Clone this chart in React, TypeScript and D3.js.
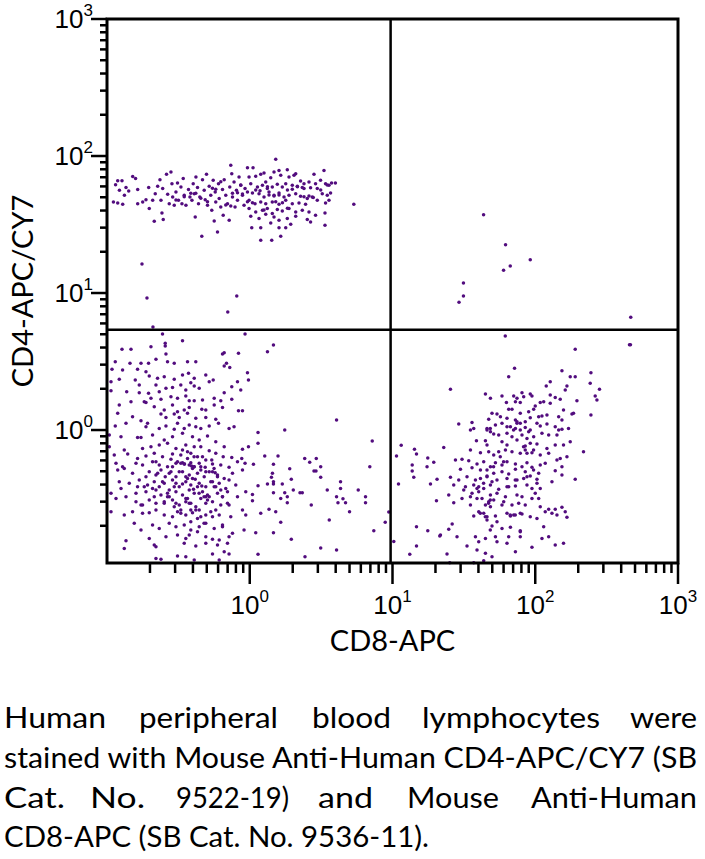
import React from "react";
import * as d3 from "d3";

// ---- data (log10 of fluorescence intensity: [CD8-APC, CD4-APC/CY7]) ----
const cd4SinglePositiveLog: [number, number][] = [
  [-0.94,1.79],[-0.925,1.82],[-0.895,1.82],[-0.867,1.77],[-0.848,1.745],[-0.82,1.85],[-0.8,1.835],[-0.913,1.75],[-0.878,1.713],[-0.955,1.665],
  [-0.925,1.657],[-0.89,1.648],[-0.785,1.755],[-0.785,1.652],[-0.75,1.665],[-0.727,1.68],[-0.708,1.77],[-0.704,1.616],[-0.68,1.677],[-0.669,1.524],
  [-0.662,1.725],[-0.645,1.779],[-0.629,1.827],[-0.622,1.677],[-0.61,1.762],[-0.615,1.584],[-0.606,1.536],[-0.583,1.866],[-0.575,1.72],[-0.564,1.652],
  [-0.552,1.883],[-0.545,1.798],[-0.54,1.7],[-0.529,1.64],[-0.517,1.737],[-0.506,1.803],[-0.499,1.677],[-0.482,1.774],[-0.475,1.652],[-0.466,1.835],
  [-0.459,1.713],[-0.447,1.64],[-0.429,1.755],[-0.419,1.7],[-0.405,1.677],[-0.396,1.798],[-0.389,1.725],[-0.382,1.555],[-0.377,1.847],[-0.366,1.77],
  [-0.359,1.652],[-0.35,1.7],[-0.336,1.414],[-0.331,1.827],[-0.319,1.75],[-0.312,1.68],[-0.303,1.866],[-0.296,1.64],[-0.284,1.779],[-0.273,1.713],
  [-0.266,1.604],[-0.256,1.823],[-0.249,1.526],[-0.242,1.737],[-0.238,1.665],[-0.226,1.446],[-0.219,1.798],[-0.214,1.689],[-0.203,1.628],[-0.191,1.755],
  [-0.186,1.567],[-0.179,1.827],[-0.168,1.713],[-0.156,1.652],[-0.144,1.531],[-0.14,1.774],[-0.133,1.932],[-0.126,1.871],[-0.121,1.7],[-0.11,1.81],
  [-0.103,1.628],[-0.093,1.75],[-0.086,1.677],[-0.075,1.847],[-0.063,1.786],[-0.051,1.713],[-0.04,1.64],[-0.033,1.762],
  [-0.016,1.915],[0.023,1.915],[0.182,1.976],[-0.005,1.847],[0.042,1.852],[0.077,1.866],[0.1,1.876],[0.112,1.81],[0.147,1.842],[0.17,1.883],
  [0.205,1.895],[0.217,1.859],[0.263,1.9],[0.275,1.847],[0.31,1.859],[0.322,1.871],[0.356,1.818],[0.38,1.798],[0.415,1.81],[0.45,1.866],
  [0.461,1.798],[0.496,1.823],[0.52,1.895],[0.531,1.798],[0.555,1.786],[0.573,1.803],[0.6,1.803],[0.007,1.798],[0.054,1.774],[0.089,1.786],
  [0.123,1.762],[0.158,1.774],[0.193,1.793],[0.228,1.774],[0.252,1.798],[0.298,1.786],[0.333,1.779],[0.38,1.762],[0.426,1.769],[0.473,1.762],
  [0.508,1.725],[0.543,1.713],[0.566,1.73],[-0.016,1.737],[0.019,1.73],[0.065,1.725],[0.1,1.7],[0.135,1.737],[0.17,1.713],[0.205,1.73],
  [0.24,1.7],[0.275,1.713],[0.322,1.725],[0.356,1.706],[0.403,1.689],[0.438,1.7],[0.473,1.677],[0.531,1.657],[0.555,1.677],[-0.005,1.677],
  [0.037,1.652],[0.077,1.665],[0.112,1.652],[0.158,1.665],[0.205,1.648],[0.252,1.677],[0.298,1.652],[0.345,1.657],[0.391,1.648],[-0.005,1.616],
  [0.042,1.592],[0.089,1.604],[0.123,1.616],[0.158,1.58],[0.193,1.609],[0.228,1.599],[0.275,1.616],[0.322,1.592],[0.368,1.604],[0.415,1.592],
  [0.461,1.567],[0.527,1.584],[0.729,1.648],[0.007,1.56],[0.065,1.543],[0.112,1.575],[0.17,1.555],[0.205,1.531],[0.263,1.543],[0.322,1.56],
  [0.403,1.536],[0.426,1.519],[0.527,1.494],[0.014,1.477],[0.077,1.477],[0.147,1.511],[0.205,1.477],[0.252,1.477],[0.287,1.502],[0.077,1.385],
  [0.154,1.385],[0.217,1.414],
  [-0.413,1.728],[-0.378,1.728],[-0.261,1.764],[-0.238,1.757],[-0.121,1.728],[-0.086,1.732],[-0.051,1.723],[0.042,1.752],[0.072,1.747],[0.135,1.715],
  [0.17,1.708],[0.205,1.715],[0.264,1.752],[0.298,1.757],[0.334,1.776],[0.368,1.771],[0.38,1.703],[0.415,1.708],[0.445,1.698],[0.182,1.666],
  [0.229,1.659],[-0.016,1.666],[0.019,1.659],[-0.168,1.642],[-0.133,1.635],[-0.296,1.666],[-0.343,1.691],[-0.459,1.703],[-0.517,1.679],[0.497,1.752],
  [0.543,1.788],[0.264,1.618],[0.1,1.606],[0.124,1.776],[-0.063,1.788],[-0.203,1.812],
  [-0.755,1.212],[-0.72,0.964],[-0.154,0.861],[-0.091,0.978],[-0.678,0.752],
];

const doublePositiveLog: [number, number][] = [
  [1.638,1.572],[1.792,1.353],[1.965,1.243],[1.825,1.197],[1.778,1.166],[1.497,1.073],[1.497,0.978],[1.466,0.932],[2.669,0.823],
];

const doubleNegativeLog: [number, number][] = [
  [-0.611,0.701],[-0.033,0.701],[-0.471,0.652],[-0.592,0.633],[-0.592,0.613],[-0.692,0.608],[-0.895,0.589],[-0.832,0.589],[-0.179,0.564],[-0.191,0.555],
  [-0.079,0.56],[-0.587,0.555],[-0.942,0.499],[-0.839,0.487],[-0.762,0.487],[-0.709,0.487],[-0.657,0.516],[-0.576,0.499],[-0.529,0.487],[-0.436,0.499],
  [-0.378,0.499],[-0.179,0.467],[-0.163,0.487],[-0.14,0.457],[-0.016,0.418],[-0.965,0.443],[-0.891,0.438],[-0.786,0.443],[-0.727,0.426],[-0.914,0.37],
  [-0.972,0.353],[-0.802,0.365],[-0.704,0.394],[-0.646,0.377],[-0.599,0.389],[-0.529,0.37],[-0.471,0.401],[-0.429,0.414],[-0.389,0.377],[-0.308,0.401],
  [-0.284,0.353],[-0.256,0.365],[-0.413,0.345],[-0.086,0.353],[-0.009,0.365],[-0.774,0.328],[-0.657,0.328],[-0.587,0.304],[-0.541,0.311],[-0.483,0.328],
  [-0.448,0.292],[-0.389,0.321],[-0.354,0.304],[-0.179,0.272],[-0.126,0.316],[-0.063,0.292],[-0.972,0.287],[-0.862,0.28],[-0.774,0.272],[-0.709,0.268],
  [-0.634,0.28],[-0.739,0.207],[-0.692,0.231],[-0.622,0.224],[-0.552,0.243],[-0.506,0.231],[-0.448,0.248],[-0.424,0.214],[-0.389,0.214],[-0.331,0.219],
  [-0.249,0.231],[-0.203,0.214],[-0.126,0.224],[-0.914,0.182],[-0.832,0.207],[-0.727,0.2],[-0.669,0.17],[-0.599,0.146],[-0.541,0.182],[-0.506,0.134],
  [-0.459,0.146],[-0.424,0.165],[-0.336,0.151],[-0.308,0.146],[-0.249,0.182],[-0.191,0.165],[-0.079,0.141],[-0.051,0.141],[-0.925,0.122],[-0.821,0.097],
  [-0.762,0.068],[-0.716,0.049],[-0.622,0.117],[-0.587,0.092],[-0.529,0.117],[-0.494,0.092],[-0.436,0.122],[-0.378,0.085],[-0.308,0.092],[-0.238,0.078],
  [-0.942,0.029],[-0.867,0.049],[-0.727,0.024],[-0.634,0.012],[-0.587,0.029],[-0.529,0.005],[-0.506,0.049],[-0.459,0.012],[-0.424,0.036],[-0.378,0.024],
  [-0.343,0.012],[-0.284,0.029],[-0.219,0.049],[-0.145,0.012],[-0.11,0.024],[-0.984,-0.036],[-0.902,-0.049],[-0.786,-0.054],[-0.762,-0.054],[-0.681,-0.036],
  [-0.599,-0.073],[-0.541,-0.049],[-0.471,-0.024],[-0.401,-0.049],[-0.354,-0.073],[-0.296,-0.044],[-0.238,-0.085],[-0.179,-0.122],[-0.984,-0.122],[-0.879,-0.146],
  [-0.751,-0.134],[-0.692,-0.122],[-0.634,-0.109],[-0.576,-0.097],[-0.517,-0.134],[-0.448,-0.109],[-0.389,-0.122],[-0.343,-0.122],[-0.284,-0.151],[-0.238,-0.17],
  [-0.186,-0.195],[-0.126,-0.2],[-0.056,-0.207],[-0.009,-0.122],[-0.949,-0.182],[-0.855,-0.175],[-0.786,-0.207],[-0.727,-0.19],[-0.669,-0.17],[-0.611,-0.195],
  [-0.552,-0.214],[-0.483,-0.182],[-0.436,-0.207],[-0.413,-0.17],[-0.366,-0.195],[-0.308,-0.219],[-0.051,-0.141],[-0.937,-0.243],[-0.891,-0.268],[-0.797,-0.243],
  [-0.751,-0.255],[-0.681,-0.231],[-0.634,-0.255],[-0.576,-0.268],[-0.517,-0.243],[-0.471,-0.238],[-0.424,-0.255],[-0.389,-0.268],[-0.354,-0.243],[-0.312,-0.272],
  [-0.261,-0.248],[-0.203,-0.255],[-0.145,-0.272],[-0.086,-0.231],[-0.033,-0.243],[-0.925,-0.292],[-0.879,-0.28],[-0.821,-0.316],[-0.704,-0.304],[-0.657,-0.328],
  [-0.622,-0.292],[-0.564,-0.316],[-0.517,-0.341],[-0.471,-0.304],[-0.424,-0.328],[-0.401,-0.28],[-0.366,-0.316],[-0.319,-0.341],[-0.261,-0.304],[-0.226,-0.328],
  [-0.179,-0.353],[-0.121,-0.316],[-0.051,-0.292],[-0.914,-0.377],[-0.844,-0.389],[-0.774,-0.365],[-0.716,-0.401],[-0.669,-0.377],[-0.599,-0.389],[-0.541,-0.365],
  [-0.494,-0.414],[-0.448,-0.377],[-0.413,-0.401],[-0.354,-0.389],[-0.308,-0.414],[-0.261,-0.377],[-0.214,-0.389],[-0.168,-0.426],[-0.098,-0.401],[-0.972,-0.462],
  [-0.902,-0.426],[-0.797,-0.462],[-0.727,-0.45],[-0.657,-0.438],[-0.622,-0.474],[-0.576,-0.462],[-0.517,-0.45],[-0.471,-0.474],[-0.424,-0.438],[-0.389,-0.462],
  [-0.331,-0.45],[-0.284,-0.487],[-0.226,-0.462],[-0.156,-0.45],[-0.086,-0.487],[-0.028,-0.45],[-0.937,-0.499],[-0.797,-0.523],[-0.762,-0.547],[-0.704,-0.511],
  [-0.657,-0.535],[-0.599,-0.523],[-0.541,-0.511],[-0.494,-0.547],[-0.448,-0.523],[-0.413,-0.535],[-0.378,-0.56],[-0.343,-0.499],[-0.308,-0.535],[-0.261,-0.523],
  [-0.203,-0.547],[-0.145,-0.547],[-0.051,-0.584],[-0.879,-0.62],[-0.821,-0.596],[-0.751,-0.608],[-0.704,-0.603],[-0.657,-0.584],[-0.599,-0.62],[-0.541,-0.633],
  [-0.506,-0.596],[-0.448,-0.62],[-0.401,-0.603],[-0.366,-0.645],[-0.308,-0.62],[-0.273,-0.596],[-0.214,-0.62],[-0.133,-0.633],[-0.028,-0.62],[-0.972,-0.596],
  [-0.809,-0.681],[-0.762,-0.73],[-0.681,-0.693],[-0.634,-0.718],[-0.564,-0.681],[-0.517,-0.706],[-0.459,-0.693],[-0.413,-0.669],[-0.354,-0.706],[-0.308,-0.681],
  [-0.249,-0.718],[-0.191,-0.693],[-0.867,-0.808],[-0.879,-0.864],[-0.704,-0.791],[-0.657,-0.852],[-0.587,-0.779],[-0.506,-0.766],[-0.448,-0.791],[-0.424,-0.766],
  [-0.366,-0.742],[-0.308,-0.779],[-0.261,-0.798],[-0.214,-0.803],[-0.145,-0.779],[-0.121,-0.754],[-0.04,-0.73],[-0.669,-0.839],[-0.459,-0.827],[-0.378,-0.847],
  [-0.308,-0.827],[-0.226,-0.839],[-0.156,-0.827],[-0.657,-0.937],[-0.622,-0.944],[-0.506,-0.92],[-0.448,-0.925],[-0.389,-0.949],[-0.261,-0.905],[-0.214,-0.949],
  [-0.179,-0.888],[-0.145,-0.905],
  [-0.457,-0.248],[-0.408,-0.263],[-0.343,-0.268],[-0.284,-0.304],[-0.242,-0.311],[-0.436,-0.353],[-0.382,-0.36],[-0.336,-0.409],[-0.296,-0.474],[-0.436,-0.499],
  [-0.552,-0.304],[-0.592,-0.341],[-0.529,-0.414],[-0.471,-0.394],[-0.394,-0.433],[-0.249,-0.414],[-0.203,-0.438],[-0.483,-0.584],[-0.354,-0.584],[-0.308,-0.487],
  [-0.634,-0.414],[-0.681,-0.426],[-0.739,-0.414],[-0.564,-0.487],[-0.517,-0.535],[-0.413,-0.584],[-0.238,-0.584],[-0.191,-0.487],[-0.145,-0.365],[-0.331,-0.195],
  [-0.266,-0.219],[-0.471,-0.146],[-0.541,-0.175],[-0.657,-0.231],[-0.727,-0.341],[-0.786,-0.414],[-0.867,-0.487],[-0.751,-0.547],[-0.261,-0.633],[-0.191,-0.706],
  [-0.483,-0.243],[-0.459,-0.248],[-0.413,-0.238],[-0.39,-0.268],[-0.343,-0.292],[-0.308,-0.304],[-0.494,-0.304],[-0.448,-0.341],[-0.401,-0.353],[-0.366,-0.414],
  [-0.355,-0.462],[-0.32,-0.487],[-0.296,-0.511],[-0.448,-0.499],[-0.424,-0.535],[-0.517,-0.389],[-0.564,-0.438],[-0.576,-0.487],[-0.611,-0.377],[-0.645,-0.316],
  [-0.273,-0.377],[-0.238,-0.414],[-0.226,-0.341],[-0.25,-0.28],[-0.39,-0.195],[-0.436,-0.158],[-0.506,-0.231],[-0.541,-0.268],[-0.378,-0.584],[-0.343,-0.633],
  [-0.483,-0.608],[-0.529,-0.56],[-0.599,-0.535],[-0.669,-0.487],[-0.191,-0.487],[-0.156,-0.535],[-0.32,-0.681],[-0.413,-0.73],
  [0.166,0.62],[0.124,0.572],[0.608,0.073],[0.245,0],[0.058,-0.019],[0.058,-0.097],[0.858,-0.08],[0.105,-0.19],[0.198,-0.19],[0.026,-0.25],
  [0.166,-0.25],[0.385,-0.207],[0.42,-0.236],[0.466,-0.207],[0.497,-0.268],[0.45,-0.299],[0.464,-0.299],[0.28,-0.282],[0.058,-0.406],[0.124,-0.394],
  [0.166,-0.377],[0.166,-0.394],[0.228,-0.394],[0.152,-0.345],[0.159,-0.316],[0.291,-0.36],[0.497,-0.345],[0.636,-0.377],[0.636,-0.426],[0.543,-0.438],
  [0.305,-0.438],[0.166,-0.457],[0.245,-0.457],[0.263,-0.487],[0.352,-0.457],[0.368,-0.457],[0.019,-0.47],[0.019,-0.516],[0.217,-0.499],[0.263,-0.53],
  [0.431,-0.547],[0.608,-0.487],[0.653,-0.501],[0.618,-0.53],[0.671,-0.53],[0.76,-0.438],[0.811,-0.487],[0.811,-0.53],[0.699,-0.596],[0.077,-0.608],
  [0.135,-0.579],[0.182,-0.596],[0.217,-0.674],[0.557,-0.657],[0.042,-0.749],[0.166,-0.749],[0.291,-0.798],[0.497,-0.861],[0.608,-0.876],[0.869,-0.735],
  [0.949,-0.674],[0.058,-0.907],[0.387,-0.925],[0.974,-0.599],[0.841,-0.268],
];

const cd8SinglePositiveLog: [number, number][] = [
  [1.814,0.389],[2.187,0.433],[2.245,0.389],[2.28,0.389],[2.39,0.418],[2.385,0.341],[2.45,0.297],[2.42,0.248],[2.432,0.219],[2.39,0.109],
  [2.292,0.214],[2.105,0.353],[2.077,0.321],[2.222,0.321],[2.21,0.292],[2.105,0.255],[2.14,0.238],[2.175,0.224],[1.406,0.297],[1.651,0.263],
  [1.686,0.231],[1.767,0.248],[1.849,0.248],[1.872,0.231],[1.907,0.272],[1.919,0.243],[1.965,0.263],[1.977,0.248],[1.861,0.207],[1.895,0.2],
  [1.798,0.2],[2.035,0.2],[2.059,0.207],[2.105,0.195],[2.0,0.175],[1.814,0.151],[1.837,0.151],[1.895,0.122],[1.954,0.134],[1.989,0.151],
  [1.697,0.122],[1.732,0.117],[1.756,0.097],[1.802,0.085],[1.861,0.073],[1.895,0.049],[1.93,0.061],[1.965,0.09],[2.024,0.097],[2.047,0.102],
  [2.082,0.109],[2.164,0.097],[2.187,0.073],[2.198,0.146],[2.257,0.117],[2.268,0.122],[1.557,0.054],[1.464,0.044],[1.674,0.078],[1.721,0.036],
  [1.767,0.049],[1.826,0.024],[1.861,0.012],[1.895,0],[1.93,0.019],[1.954,-0.012],[2.012,0.049],[2.035,0.029],[2.082,0.044],[2.14,0.024],
  [2.164,0],[2.187,0.005],[2.233,0.012],[1.546,0],[1.569,0.012],[1.662,0.012],[1.686,-0.012],[1.709,-0.029],[1.744,-0.036],[1.802,-0.024],
  [1.837,-0.049],[1.907,-0.036],[1.942,-0.061],[1.989,-0.049],[2.047,-0.024],[2.094,-0.036],[2.152,-0.036],[1.588,-0.078],[1.651,-0.078],[1.662,-0.109],
  [1.767,-0.085],[1.802,-0.109],[1.872,-0.073],[1.93,-0.117],[1.965,-0.097],[2.012,-0.102],[2.082,-0.134],[2.14,-0.109],[2.198,-0.109],[2.245,-0.085],
  [2.338,-0.158],[1.359,-0.127],[1.546,-0.146],[1.616,-0.165],[1.674,-0.158],[1.709,-0.182],[1.744,-0.158],[1.791,-0.146],[1.837,-0.158],[1.895,-0.17],
  [1.93,-0.146],[1.977,-0.165],[2.035,-0.182],[2.094,-0.17],[2.175,-0.207],[2.222,-0.195],[1.441,-0.219],[1.487,-0.214],[1.534,-0.224],[1.592,-0.248],
  [1.639,-0.231],[1.686,-0.268],[1.721,-0.238],[1.767,-0.255],[1.802,-0.231],[1.861,-0.248],[1.907,-0.268],[1.942,-0.238],[1.977,-0.272],[2.035,-0.255],
  [2.07,-0.243],[2.152,-0.219],[2.187,-0.268],[1.476,-0.287],[1.557,-0.275],[1.616,-0.292],[1.662,-0.292],[1.709,-0.316],[1.767,-0.304],[1.814,-0.321],
  [1.861,-0.287],[1.93,-0.304],[1.965,-0.336],[2.024,-0.316],[2.14,-0.297],[2.187,-0.328],[2.28,-0.36],[1.406,-0.345],[1.464,-0.365],[1.522,-0.341],
  [1.581,-0.365],[1.616,-0.353],[1.662,-0.336],[1.697,-0.377],[1.732,-0.365],[1.802,-0.353],[1.872,-0.365],[1.919,-0.353],[2.012,-0.36],[1.429,-0.401],
  [1.511,-0.414],[1.569,-0.401],[1.592,-0.426],[1.639,-0.426],[1.686,-0.401],[1.744,-0.433],[1.814,-0.414],[1.861,-0.409],[1.942,-0.401],[1.977,-0.426],
  [2.035,-0.426],[2.117,-0.377],[1.394,-0.474],[1.499,-0.438],[1.557,-0.462],[1.604,-0.45],[1.686,-0.474],[1.732,-0.462],[1.791,-0.487],[1.872,-0.474],
  [1.907,-0.487],[2.0,-0.462],[2.024,-0.499],[1.429,-0.53],[1.487,-0.499],[1.546,-0.487],[1.592,-0.499],[1.627,-0.499],[1.674,-0.523],[1.709,-0.511],
  [1.779,-0.523],[1.837,-0.547],[1.884,-0.535],[1.93,-0.547],[1.977,-0.499],[2.035,-0.56],[2.094,-0.579],[2.14,-0.579],[2.187,-0.564],[1.546,-0.547],
  [1.651,-0.547],[1.686,-0.56],[1.767,-0.547],[1.604,-0.596],[1.639,-0.608],[1.662,-0.633],[1.721,-0.628],[1.802,-0.608],[1.826,-0.628],[1.849,-0.62],
  [1.907,-0.613],[1.965,-0.633],[2.012,-0.645],[2.07,-0.596],[2.117,-0.608],[2.152,-0.62],[2.21,-0.596],[2.222,-0.637],[1.569,-0.628],[1.662,-0.657],
  [1.697,-0.701],[1.732,-0.669],[1.767,-0.718],[1.826,-0.71],[1.895,-0.735],[2.059,-0.706],[1.418,-0.686],[1.394,-0.725],[1.452,-0.779],[1.336,-0.766],
  [1.581,-0.779],[1.651,-0.791],[1.721,-0.779],[1.814,-0.779],[1.895,-0.779],[2.047,-0.791],[2.094,-0.779],[1.604,-0.815],[1.732,-0.815],[1.802,-0.827],
  [1.977,-0.856],[2.14,-0.839],[2.198,-0.827],[1.522,-0.847],[1.592,-0.876],[1.651,-0.9],[1.697,-0.925],[1.861,-0.888],[1.382,-0.905],[1.401,-0.968],
  [1.569,-0.968],[1.639,-0.954],
  [1.662,0],[1.685,0.012],[1.802,0.024],[1.848,0],[1.872,0.049],[1.918,-0.122],[1.942,-0.17],[1.755,-0.195],[1.778,-0.231],[1.708,-0.268],
  [1.662,-0.341],[1.638,-0.389],[1.604,-0.414],[1.685,-0.511],[1.673,-0.535],[1.615,-0.608],[1.65,-0.633],[1.825,-0.62],[1.86,-0.62],[1.895,-0.608],
  [1.872,0.061],[1.965,0],[1.988,-0.146],[1.86,-0.365],[1.802,-0.414],[1.988,-0.292],[2.012,-0.389],[1.942,-0.341],[1.685,-0.73],[1.895,-0.742],
  [1.79,0.686],[2.28,0.589],[2.66,0.623],[2.667,0.623],[1.855,0.45],[1.061,-0.112],[1.028,-0.19],[1.154,-0.141],[1.168,-0.175],[1.247,-0.204],
  [1.289,-0.236],[1.138,-0.255],[1.242,-0.268],[1.138,-0.299],[1.149,-0.345],[1.042,-0.394],[1.266,-0.394],[1.312,-0.36],[1.308,-0.516],[1.168,-0.706],
  [1.247,-0.735],[1.331,-0.774],[1.009,-0.813],[1.168,-0.847],[1.121,-0.907],
];

const populations = [cd4SinglePositiveLog, doublePositiveLog, doubleNegativeLog, cd8SinglePositiveLog];

const tickExponents = [0, 1, 2, 3];
const minorMultipliers = [2, 3, 4, 5, 6, 7, 8, 9];
const minorDecades = [0.1, 1, 10, 100];
const gateCD8 = 9.7;
const gateCD4 = 5.4;

const xTitle = "CD8-APC";
const yTitle = "CD4-APC/CY7";
const captionLines: { words: string[]; spans: [number, number][]; y: number }[] = [
  { words: ["Human", "peripheral", "blood", "lymphocytes", "were"], spans: [[4, 106], [139, 278], [312, 391], [422, 600], [630, 697]], y: 728 },
  { words: ["stained with Mouse Anti-Human CD4-APC/CY7 (SB"], spans: [[4, 697]], y: 768 },
  { words: ["Cat.", "No.", "9522-19)", "and", "Mouse", "Anti-Human"], spans: [[4, 65], [90, 145], [176, 289], [318, 373], [407, 499], [531, 697]], y: 808 },
  { words: ["CD8-APC (SB Cat. No. 9536-11)."], spans: [[4, 429]], y: 847 },
];

const W = 705;
const H = 859;
const plot = { left: 107, right: 678, top: 19, bottom: 563 };
const dotColor = "#520c7e";
const tickFont = "'Liberation Sans', Arial, sans-serif";
const textFont = "Lato, 'Open Sans', sans-serif";

export default function App() {
  const x = d3.scaleLog().domain([0.1, 1000]).range([plot.left, plot.right]);
  const y = d3.scaleLog().domain([0.107, 1000]).range([plot.bottom, plot.top]);
  const minorTicks = minorDecades.flatMap((d) => minorMultipliers.map((m) => d * m));
  const yMinor = minorTicks.filter((v) => v > 0.107 && v < 1000);

  return (
    <svg width={W} height={H} style={{ position: "absolute", left: 0, top: 0, background: "#fff" }}>
      <rect x={0} y={0} width={W} height={H} fill="#fff" />
      {/* dots */}
      <g fill={dotColor}>
        {populations.map((pop, pi) =>
          pop.map((d, i) => (
            <circle key={pi + "-" + i} cx={x(Math.pow(10, d[0]))} cy={y(Math.pow(10, d[1]))} r={1.75} />
          ))
        )}
      </g>
      {/* quadrant gates */}
      <line x1={x(gateCD8)} x2={x(gateCD8)} y1={plot.top} y2={plot.bottom} stroke="#000" strokeWidth={2.5} />
      <line x1={plot.left} x2={plot.right} y1={y(gateCD4)} y2={y(gateCD4)} stroke="#000" strokeWidth={2.5} />
      {/* frame */}
      <rect x={plot.left} y={plot.top} width={plot.right - plot.left} height={plot.bottom - plot.top} fill="none" stroke="#000" strokeWidth={3} />
      {/* ticks */}
      <g stroke="#000" strokeWidth={2.5}>
        {minorTicks.map((v) => (
          <line key={"xm" + v} x1={x(v)} x2={x(v)} y1={plot.bottom} y2={plot.bottom + 10} />
        ))}
        {tickExponents.map((p) => (
          <line key={"xM" + p} x1={x(Math.pow(10, p))} x2={x(Math.pow(10, p))} y1={plot.bottom} y2={plot.bottom + 21} />
        ))}
        {yMinor.map((v) => (
          <line key={"ym" + v} x1={plot.left - 7} x2={plot.left} y1={y(v)} y2={y(v)} />
        ))}
        {tickExponents.map((p) => (
          <line key={"yM" + p} x1={plot.left - 16} x2={plot.left} y1={y(Math.pow(10, p))} y2={y(Math.pow(10, p))} />
        ))}
      </g>
      {/* tick labels */}
      <g fontFamily={tickFont} fontSize={26} fill="#000">
        {tickExponents.map((p) => (
          <text key={"xl" + p} x={x(Math.pow(10, p))} y={614} textAnchor="middle">
            10<tspan dy={-12} fontSize={17}>{p}</tspan>
          </text>
        ))}
        {tickExponents.map((p) => (
          <text key={"yl" + p} x={93} y={y(Math.pow(10, p)) + 9} textAnchor="end">
            10<tspan dy={-12} fontSize={17}>{p}</tspan>
          </text>
        ))}
      </g>
      {/* axis titles */}
      <text x={(plot.left + plot.right) / 2} y={651} textAnchor="middle" fontFamily={textFont} fontSize={29} fill="#000">
        {xTitle}
      </text>
      <text transform={`translate(33, ${(plot.top + plot.bottom) / 2}) rotate(-90)`} textAnchor="middle" fontFamily={textFont} fontSize={29} fill="#000">
        {yTitle}
      </text>
      {/* caption */}
      <g fontFamily={textFont} fontSize={29} fill="#000">
        {captionLines.map((line, li) =>
          line.words.map((w, wi) => (
            <text
              key={li + "-" + wi}
              x={line.spans[wi][0]}
              y={line.y}
              textLength={line.spans[wi][1] - line.spans[wi][0]}
              lengthAdjust="spacingAndGlyphs"
            >
              {w}
            </text>
          ))
        )}
      </g>
    </svg>
  );
}
